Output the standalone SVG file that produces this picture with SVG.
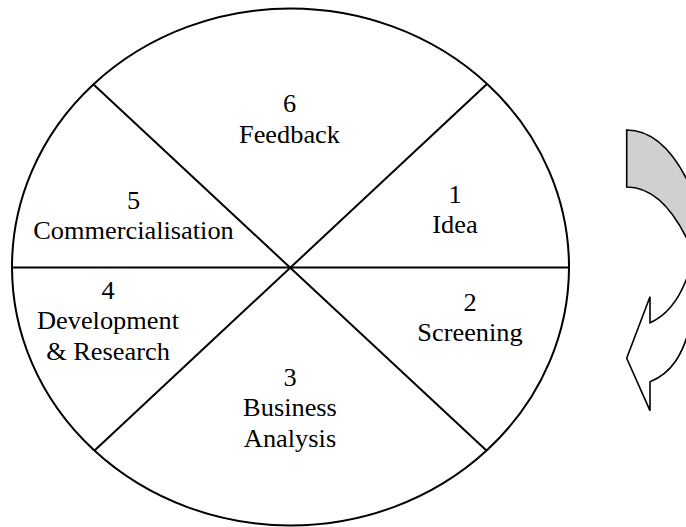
<svg xmlns="http://www.w3.org/2000/svg" width="686" height="527" viewBox="0 0 686 527">
  <style>
    .outline { fill: none; stroke: #000; stroke-width: 2; }
    .arrow-back { fill: #d0d0d0; stroke: #000; stroke-width: 1.6; stroke-linejoin: miter; }
    .arrow-front { fill: #fff; stroke: #000; stroke-width: 1.6; stroke-linejoin: miter; }
  </style>

  <rect width="686" height="527" fill="#fff"/>

  <!-- wheel outline and the three dividing lines -->
  <g id="wheel">
    <ellipse class="outline" cx="290.5" cy="267" rx="278.5" ry="258.5"/>
  </g>
  <g id="connectors">
    <line class="outline" x1="12" y1="267.5" x2="569" y2="267.5"/>
    <line class="outline" x1="93.3" y1="84.3" x2="486.7" y2="450.7"/>
    <line class="outline" x1="486.7" y1="84.3" x2="94.3" y2="450.7"/>
  </g>

  <!-- stage labels (text is widened slightly to follow the wheel's proportions) -->
  <g id="labels" font-family="Liberation Serif, Times New Roman, DejaVu Serif, serif" font-size="24.2" fill="#000" text-anchor="middle">
    <g id="stage-6" transform="translate(289.5,0) scale(1.09,1)">
      <text x="0" y="111.7">6</text>
      <text x="0" y="143.3">Feedback</text>
    </g>
    <g id="stage-5" transform="translate(133.5,0) scale(1.09,1)">
      <text x="0" y="209">5</text>
      <text x="0" y="239">Commercialisation</text>
    </g>
    <g id="stage-1" transform="translate(455,0) scale(1.09,1)">
      <text x="0" y="203.3">1</text>
      <text x="0" y="233.3">Idea</text>
    </g>
    <g id="stage-4" transform="translate(108,0) scale(1.09,1)">
      <text x="0" y="299">4</text>
      <text x="0" y="329.3">Development</text>
      <text x="0" y="360">&amp; Research</text>
    </g>
    <g id="stage-2" transform="translate(470,0) scale(1.09,1)">
      <text x="0" y="310.7">2</text>
      <text x="0" y="340.7">Screening</text>
    </g>
    <g id="stage-3" transform="translate(290,0) scale(1.09,1)">
      <text x="0" y="386">3</text>
      <text x="0" y="416">Business</text>
      <text x="0" y="446.7">Analysis</text>
    </g>
  </g>

  <!-- curved arrow at the right edge: shaded back face on top, front face with head below -->
  <g id="cycle-arrow">
    <path class="arrow-back" d="M626.7,130 C652,130 674,150 692,190 L692,250 C674,208 652,187 626.7,187 Z"/>
    <path class="arrow-front" d="M692,262 C684,292 670,314 650,322.7 L650,296.7 L626.7,358.3 L650,410.7 L650,381.7 C670,374 684,356 692,318 Z"/>
  </g>
</svg>
